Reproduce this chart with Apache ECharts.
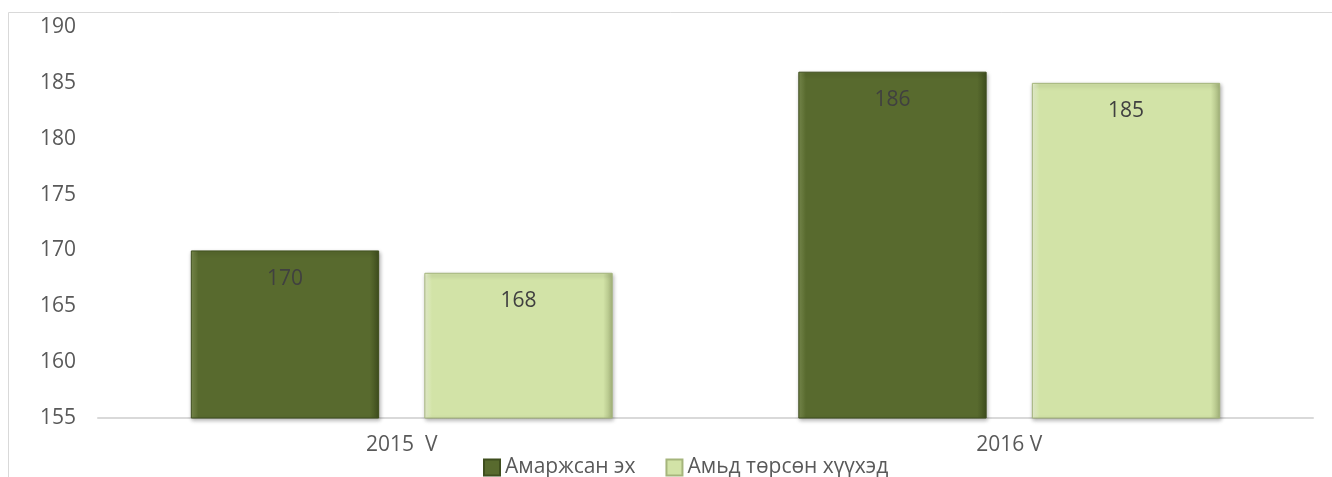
<!DOCTYPE html>
<html>
<head>
<meta charset="utf-8">
<script src="https://cdn.jsdelivr.net/npm/echarts@6/dist/echarts.min.js"></script>
<style>
html,body{margin:0;padding:0;background:#fff;}
#c{width:1332px;height:477px;}
</style>
</head>
<body>
<div id="c"></div>
<script>
const categories = ['2015  V', '2016 V'];
const seriesNames = ['Амаржсан эх', 'Амьд төрсөн хүүхэд'];
const mothers = [170, 186];
const children = [168, 185];
const yMin = 155, yMax = 190, yStep = 5;

const FONT = 'Open Sans';
const chart = echarts.init(document.getElementById('c'));

function barStyle(base, light, dark) {
  return {
    color: new echarts.graphic.LinearGradient(0, 0, 1, 0, [
      {offset: 0, color: light},
      {offset: 0.04, color: base},
      {offset: 0.95, color: base},
      {offset: 1, color: dark}
    ]),
    borderColor: dark,
    borderWidth: 1,
    shadowBlur: 4,
    shadowColor: 'rgba(0,0,0,0.3)',
    shadowOffsetX: 1,
    shadowOffsetY: 2
  };
}

chart.setOption({
  animation: false,
  textStyle: {fontFamily: FONT},
  graphic: [{
    type: 'polyline',
    shape: {points: [[8.5, 477], [8.5, 12.5], [1332, 12.5]]},
    style: {stroke: '#d9d9d9', lineWidth: 1, fill: null},
    silent: true
  }],
  grid: {left: 98, right: 19, top: 27, bottom: 59},
  legend: {
    left: 478, top: 452,
    itemWidth: 16, itemHeight: 16, itemGap: 30,
    icon: 'rect',
    textStyle: {fontFamily: FONT, fontSize: 21, color: '#595959'},
    data: seriesNames
  },
  xAxis: {
    type: 'category',
    data: categories,
    axisLine: {lineStyle: {color: '#d9d9d9', width: 2}},
    axisTick: {show: false},
    axisLabel: {fontFamily: FONT, fontSize: 21, color: '#595959', margin: 17}
  },
  yAxis: {
    type: 'value',
    min: yMin, max: yMax, interval: yStep,
    axisLine: {show: false},
    axisTick: {show: false},
    splitLine: {show: false},
    axisLabel: {fontFamily: FONT, fontSize: 21, color: '#595959', margin: 22}
  },
  series: [{
    name: seriesNames[0],
    type: 'bar',
    data: mothers,
    barWidth: '31%',
    barGap: '24%',
    itemStyle: barStyle('#586a2e', '#7d8f50', '#3f4e1e'),
    label: {show: true, position: 'insideTop', distance: 18, fontFamily: FONT, fontSize: 21, color: '#404040'}
  }, {
    name: seriesNames[1],
    type: 'bar',
    data: children,
    barWidth: '31%',
    itemStyle: barStyle('#d2e3a7', '#eef7d6', '#a5b57c'),
    label: {show: true, position: 'insideTop', distance: 18, fontFamily: FONT, fontSize: 21, color: '#404040'}
  }]
});
</script>
</body>
</html>
